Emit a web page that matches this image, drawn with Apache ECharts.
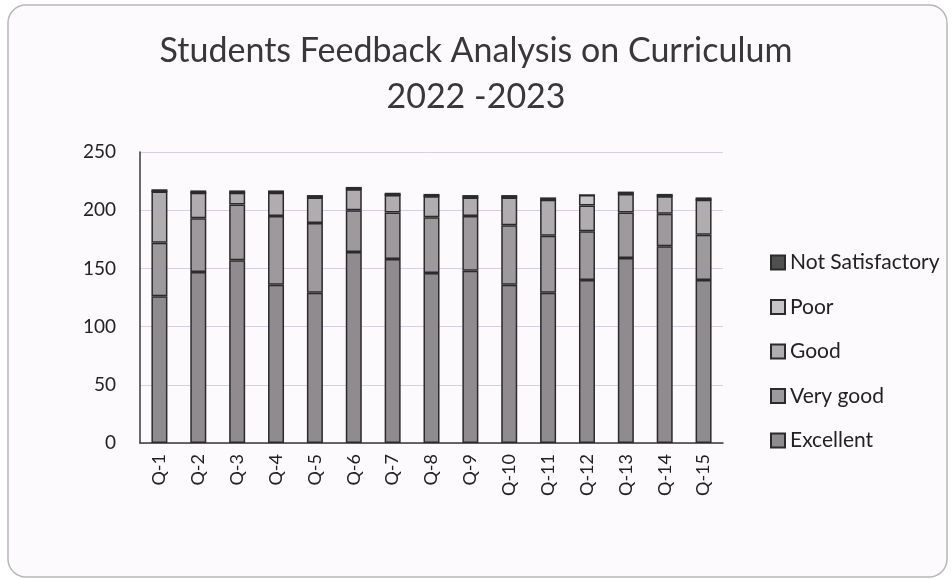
<!DOCTYPE html>
<html>
<head>
<meta charset="utf-8">
<script src="https://cdn.jsdelivr.net/npm/echarts@6/dist/echarts.min.js"></script>
<style>
  html, body { margin: 0; padding: 0; background: #ffffff; }
  #chart { width: 952px; height: 579px; }
</style>
</head>
<body>
<div id="chart"></div>
<script>
// data
const questions = ['Q-1', 'Q-2', 'Q-3', 'Q-4', 'Q-5', 'Q-6', 'Q-7', 'Q-8', 'Q-9', 'Q-10', 'Q-11', 'Q-12', 'Q-13', 'Q-14', 'Q-15'];
const excellent = [126, 147, 157, 136, 129, 164, 158, 146, 148, 136, 129, 140, 159, 169, 140];
const veryGood = [46, 46, 48, 59, 60, 36, 40, 48, 47, 51, 49, 42, 39, 28, 39];
const good = [44, 22, 10, 20, 22, 18, 15, 18, 16, 24, 31, 22, 16, 15, 30];
const poor = [0, 0, 0, 0, 0, 0, 0, 0, 0, 0, 0, 9, 0, 0, 0];
const notSatisfactory = [2, 2, 2, 2, 2, 2, 2, 2, 2, 2, 2, 0, 2, 2, 2];
const yTicks = [0, 50, 100, 150, 200, 250];

const chart = echarts.init(document.getElementById('chart'));
const font = 'Lato, "Open Sans", sans-serif';

function bar(name, data, color) {
  return {
    name: name,
    type: 'bar',
    stack: 'total',
    barWidth: 16,
    data: data,
    itemStyle: {
      color: color,
      borderColor: '#2b2b2b',
      borderWidth: 1.5
    }
  };
}

const option = {
  backgroundColor: '#ffffff',
  animation: false,
  graphic: [{
    type: 'rect',
    z: -10,
    shape: { x: 8, y: 5, width: 939, height: 572, r: 18 },
    style: { fill: '#fdfafd', stroke: '#b9b5b9', lineWidth: 1.5 }
  }],
  title: {
    text: 'Students Feedback Analysis on Curriculum\n2022 -2023',
    left: 'center',
    top: 23,
    textStyle: {
      fontFamily: font,
      fontSize: 34,
      fontWeight: 'normal',
      color: '#383838',
      lineHeight: 46
    }
  },
  legend: {
    orient: 'vertical',
    left: 765,
    top: 247,
    itemWidth: 14,
    itemHeight: 14,
    itemGap: 23.5,
    icon: 'rect',
    data: ['Not Satisfactory', 'Poor', 'Good', 'Very good', 'Excellent'],
    textStyle: { fontFamily: font, fontSize: 21, color: '#222' }
  },
  grid: { left: 140, right: 229, top: 152, bottom: 136 },
  xAxis: {
    type: 'category',
    data: questions,
    axisLine: { lineStyle: { color: '#3a3a3a', width: 1.5 } },
    axisTick: { show: false },
    axisLabel: {
      rotate: 90,
      fontFamily: font,
      fontSize: 18,
      color: '#222',
      margin: 11
    }
  },
  yAxis: {
    type: 'value',
    min: yTicks[0],
    max: yTicks[yTicks.length - 1],
    interval: 50,
    axisLine: { show: true, lineStyle: { color: '#3a3a3a', width: 1.5 } },
    axisTick: { show: false },
    splitLine: { lineStyle: { color: '#d9cde0', width: 1 } },
    axisLabel: {
      fontFamily: font,
      fontSize: 19,
      color: '#222',
      margin: 24
    }
  },
  series: [
    bar('Excellent', excellent, '#8f8b8f'),
    bar('Very good', veryGood, '#9d999d'),
    bar('Good', good, '#b0acb0'),
    bar('Poor', poor, '#c8c4c8'),
    bar('Not Satisfactory', notSatisfactory, '#505050')
  ]
};

chart.setOption(option);
</script>
</body>
</html>
